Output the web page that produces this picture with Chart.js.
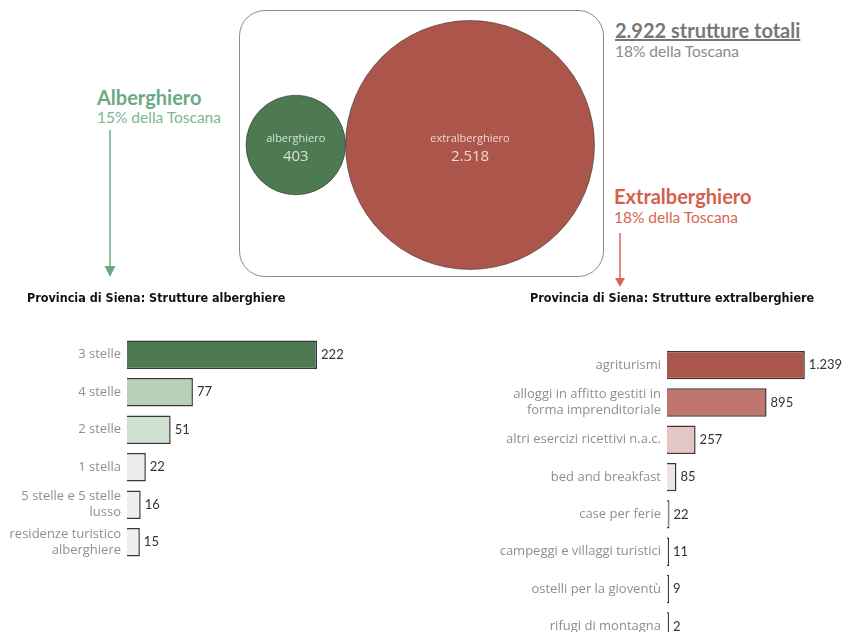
<!DOCTYPE html>
<html lang="it">
<head>
<meta charset="utf-8">
<title>Provincia di Siena: strutture ricettive</title>
<script src="https://cdn.jsdelivr.net/npm/chart.js@4"></script>
<style>
  html, body { margin: 0; padding: 0; background: #fff; overflow: hidden; }
  #page { position: relative; width: 845px; height: 632px; overflow: hidden; font-family: Lato, "Open Sans", sans-serif; }
  .abs { position: absolute; white-space: nowrap; }
  .big { font-weight: bold; font-size: 20px; line-height: 22px; }
  .sub { font-size: 15.5px; line-height: 18px; }
  .title { font-family: "Liberation Sans Narrow", "DejaVu Sans Condensed", sans-serif; font-weight: bold; font-size: 12.5px; color: #111; line-height: 18px; }
  #panel { position: absolute; left: 239px; top: 10px; width: 365px; height: 267px; box-sizing: border-box; border: 1.5px solid #8c8c8c; border-radius: 26px; }
  canvas { position: absolute; }
</style>
</head>
<body>
<div id="page">
  <div id="panel"></div>
  <canvas id="bubbleChart" width="365" height="268" style="left:239px; top:11px;"></canvas>

  <div class="abs big" style="left:97px; top:86px; color:#6aab83;">Alberghiero</div>
  <div class="abs sub" style="left:97px; top:108px; color:#7cb792;">15% della Toscana</div>

  <div class="abs big" style="left:615px; top:19px; color:#777; text-decoration: underline;">2.922 strutture totali</div>
  <div class="abs sub" style="left:615px; top:42px; color:#8a8a8a;">18% della Toscana</div>

  <div class="abs big" style="left:614px; top:185px; color:#d65f4c;">Extralberghiero</div>
  <div class="abs sub" style="left:614px; top:208px; color:#d9654f;">18% della Toscana</div>

  <svg class="abs" width="845" height="632" style="left:0; top:0; pointer-events:none;">
    <line x1="110" y1="130" x2="110" y2="268" stroke="#6aab83" stroke-width="1.5"/>
    <polygon points="104.5,266 115.5,266 110,277" fill="#6aab83"/>
    <line x1="620" y1="233" x2="620" y2="279" stroke="#d9654f" stroke-width="1.5"/>
    <polygon points="615,278 625,278 620,287" fill="#d9654f"/>
  </svg>

  <div class="abs title" style="left:27px; top:289px;">Provincia di Siena: Strutture alberghiere</div>
  <div class="abs title" style="left:530px; top:289px;">Provincia di Siena: Strutture extralberghiere</div>

  <canvas id="hotelChart" width="353" height="231" style="left:0; top:330px;"></canvas>
  <canvas id="extraChart" width="445" height="305" style="left:400px; top:340px;"></canvas>
</div>

<script>
// Totali per tipo di struttura
const bubbleLabels = ['alberghiero', 'extralberghiero'];
const bubbleValues = [403, 2518];
const bubbleColors = ['#4e7a52', '#ab554b'];

// Strutture alberghiere
const hotelLabels = ['3 stelle', '4 stelle', '2 stelle', '1 stella', ['5 stelle e 5 stelle', 'lusso'], ['residenze turistico', 'alberghiere']];
const hotelValues = [222, 77, 51, 22, 16, 15];
const hotelColors = ['#4e7a52', '#b7d0ba', '#d0e0d1', '#ececec', '#efefef', '#efefef'];

// Strutture extralberghiere
const extraLabels = ['agriturismi', ['alloggi in affitto gestiti in', 'forma imprenditoriale'], 'altri esercizi ricettivi n.a.c.', 'bed and breakfast', 'case per ferie', 'campeggi e villaggi turistici', 'ostelli per la gioventù', 'rifugi di montagna'];
const extraValues = [1239, 895, 257, 85, 22, 11, 9, 2];
const extraColors = ['#ab554b', '#c1766d', '#e2c7c5', '#efe4e3', '#f1eeee', '#f2f0f0', '#f2f0f0', '#f2f0f0'];

const FONT = '"Open Sans", Lato, sans-serif';

function fmt(n) {
  return String(n).replace(/\B(?=(\d{3})+(?!\d))/g, '.');
}

// Bubble chart: area proportional to value, circles packed side by side
const k = 2.48;
const radii = bubbleValues.map(v => k * Math.sqrt(v));
const xs = [];
let cursor = 7;
radii.forEach(r => { xs.push(cursor + r); cursor += 2 * r; });

const bubbleText = {
  id: 'bubbleText',
  afterDatasetsDraw(chart) {
    const ctx = chart.ctx;
    const meta = chart.getDatasetMeta(0);
    ctx.save();
    ctx.textAlign = 'center';
    ctx.textBaseline = 'middle';
    meta.data.forEach((el, i) => {
      ctx.fillStyle = i === 0 ? 'rgba(235,245,237,0.85)' : 'rgba(250,228,225,0.9)';
      ctx.font = '11px ' + FONT;
      ctx.fillText(bubbleLabels[i], el.x, el.y - 6);
      ctx.font = '15px ' + FONT;
      ctx.fillText(fmt(bubbleValues[i]), el.x, el.y + 12);
    });
    ctx.restore();
  }
};

new Chart(document.getElementById('bubbleChart'), {
  type: 'bubble',
  data: {
    datasets: [{
      data: bubbleValues.map((v, i) => ({ x: xs[i], y: 0, r: radii[i] })),
      backgroundColor: bubbleColors,
      borderColor: 'rgba(40,40,40,0.55)',
      borderWidth: 1,
      clip: false
    }]
  },
  options: {
    responsive: false,
    animation: false,
    events: [],
    layout: { padding: 0, autoPadding: false },
    plugins: { legend: { display: false }, tooltip: { enabled: false } },
    scales: {
      x: { display: false, min: 0, max: 365 },
      y: { display: false, min: -1, max: 1 }
    }
  },
  plugins: [bubbleText]
});

// Value labels at the end of each bar
const valueLabels = {
  id: 'valueLabels',
  afterDatasetsDraw(chart) {
    const ctx = chart.ctx;
    const meta = chart.getDatasetMeta(0);
    const values = chart.data.datasets[0].data;
    ctx.save();
    ctx.fillStyle = '#333';
    ctx.font = '13px Lato, sans-serif';
    ctx.textAlign = 'left';
    ctx.textBaseline = 'middle';
    meta.data.forEach((el, i) => {
      ctx.fillText(fmt(values[i]), el.x + 4, el.y);
    });
    ctx.restore();
  }
};

function barChart(id, labels, values, colors, max, axisWidth, padTop, showBase) {
  return new Chart(document.getElementById(id), {
    type: 'bar',
    data: {
      labels: labels,
      datasets: [{
        data: values,
        backgroundColor: colors,
        borderColor: '#383838',
        borderWidth: 1.5,
        barPercentage: 0.76,
        categoryPercentage: 1,
        minBarLength: 2
      }]
    },
    options: {
      indexAxis: 'y',
      responsive: false,
      animation: false,
      events: [],
      layout: { padding: { top: padTop, right: 0, bottom: 0, left: 0 }, autoPadding: false },
      plugins: { legend: { display: false }, tooltip: { enabled: false } },
      scales: {
        x: {
          display: showBase,
          min: 0,
          max: max,
          grid: { display: false, drawTicks: false },
          border: { display: showBase, color: '#efefef', width: 1 },
          ticks: { display: false },
          afterFit(scale) { scale.height = 0; scale.paddingLeft = 0; scale.paddingRight = 0; }
        },
        y: {
          grid: { display: false, drawTicks: false },
          border: { display: false },
          ticks: {
            color: '#8f8f8f',
            padding: 6,
            font: { family: FONT, size: 13, lineHeight: 1.23 }
          },
          afterFit(scale) {
            scale.width = axisWidth;
            scale.paddingTop = 0;
            scale.paddingBottom = 0;
          }
        }
      }
    },
    plugins: [valueLabels]
  });
}

barChart('hotelChart', hotelLabels, hotelValues, hotelColors, 264, 127, 6, true);
barChart('extraChart', extraLabels, extraValues, extraColors, 1600, 267, 6.5, false);
</script>
</body>
</html>
